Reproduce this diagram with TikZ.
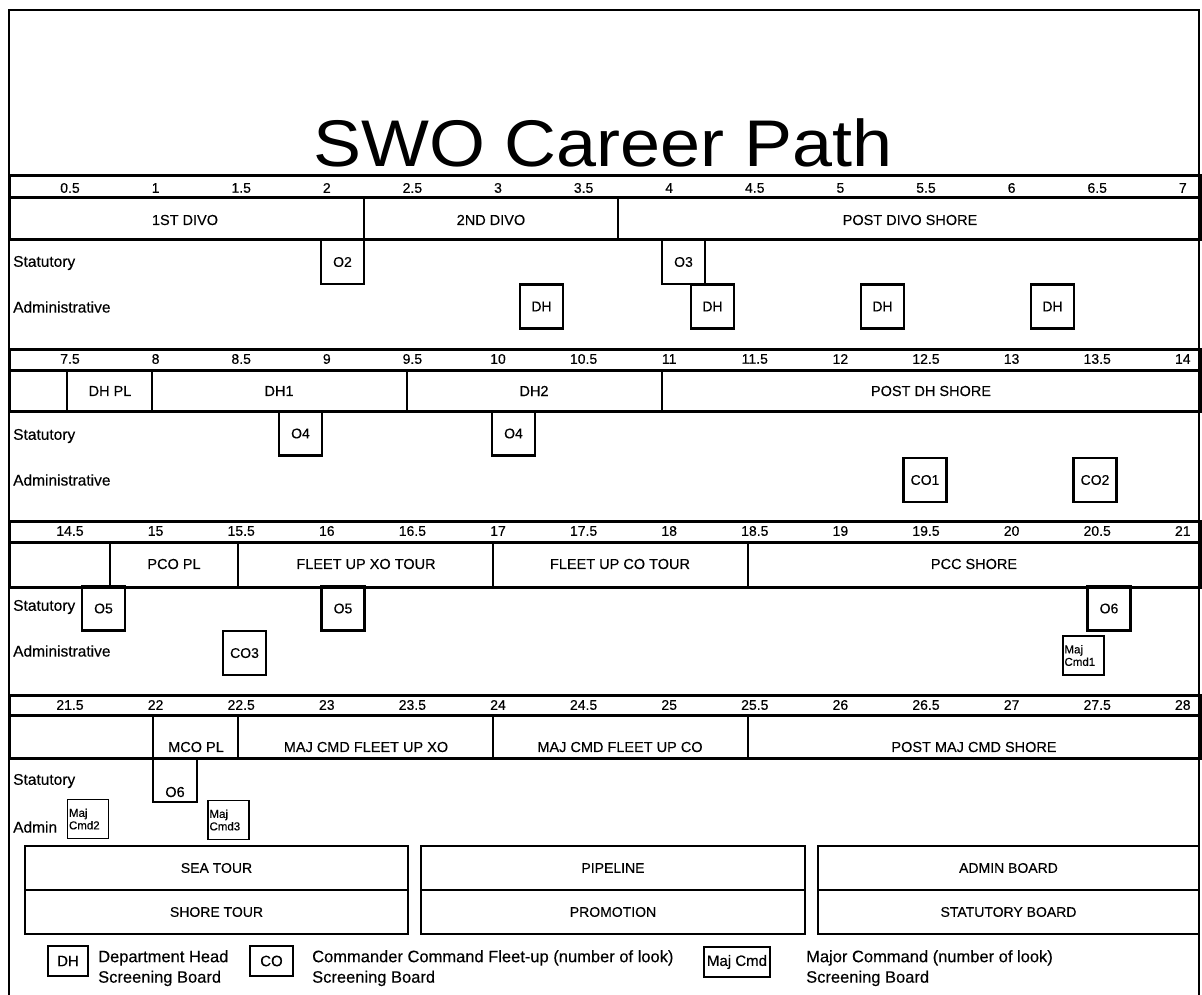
\documentclass[tikz,border=0pt]{standalone}
\usepackage{fontspec}
\setmainfont{Liberation Sans}
\newfontfamily\nar[FakeBold=0.3]{Liberation Sans}
\newfontfamily\ttl[FakeStretch=1.09]{Liberation Sans}
\newcommand{\fsz}[1]{\fontsize{#1}{#1}\selectfont}
\begin{document}
\begin{tikzpicture}[x=1pt,y=-1pt,
  sect/.style={line width=3pt},
  divl/.style={line width=2.5pt},
  ct/.style={font=\nar\fsz{14.5}, inner sep=0pt},
  num/.style={font=\nar\fsz{14}, inner sep=0pt},
  lab/.style={anchor=west, font=\nar\fsz{15.5}, inner sep=0pt},
  sb/.style={draw, line width=2.5pt, inner sep=0pt, font=\nar\fsz{14}, minimum width=43pt, minimum height=44pt},
  mc/.style={draw, line width=1.6pt, inner sep=0pt, font=\nar\fsz{11.5}, align=left, text width=38pt, minimum width=41pt, minimum height=39pt},
  leg/.style={draw, line width=2pt, inner sep=0pt, font=\nar\fsz{14}, minimum height=44pt},
  lk/.style={draw, line width=1.2pt, inner sep=0pt, font=\nar\fsz{15}, minimum height=30pt},
  lt/.style={anchor=north west, font=\nar\fsz{16.5}, align=left, inner sep=0pt}
]
\useasboundingbox (0,0) rectangle (1202,995);
% outer frame
\draw[line width=2pt] (9,995) -- (9,10) -- (1199,10) -- (1199,995);
% title
\node[font=\ttl\fsz{66}, anchor=base, inner sep=0pt, text depth=0pt] (title) at (603,167) {SWO Career Path};

% ===== Section 1 =====
\draw[sect] (9,176) rectangle (1200,198);
\draw[sect] (9,198) rectangle (1200,240);
\draw[divl] (364,198) -- (364,240);
\draw[divl] (618,198) -- (618,240);
\foreach \v [count=\i] in {0.5,1,1.5,2,2.5,3,3.5,4,4.5,5,5.5,6,6.5,7}
  \node[num] (na\i) at ({70+85.6*(\i-1)},188) {\v};
\node[ct] (c11) at (185,220) {1ST DIVO};
\node[ct] (c12) at (491,220) {2ND DIVO};
\node[ct] (c13) at (910,220) {POST DIVO SHORE};
\node[lab] (st1) at (13,263) {Statutory};
\node[lab] (ad1) at (13,307) {Administrative};
\node[sb] (o2) at (342.5,262) {O2};
\node[sb] (o3) at (683.5,262) {O3};
\node[sb] (dh1) at (541.5,306.5) {DH};
\node[sb] (dh2) at (712.5,306.5) {DH};
\node[sb] (dh3) at (882.5,306.5) {DH};
\node[sb] (dh4) at (1052.5,306.5) {DH};

% ===== Section 2 =====
\draw[sect] (9,349) rectangle (1200,370);
\draw[sect] (9,370) rectangle (1200,411);
\foreach \xx in {67,152,407,662} \draw[divl] (\xx,370) -- (\xx,411);
\foreach \v [count=\i] in {7.5,8,8.5,9,9.5,10,10.5,11,11.5,12,12.5,13,13.5,14}
  \node[num] (nb\i) at ({70+85.6*(\i-1)},359) {\v};
\node[ct] (c21) at (110,391) {DH PL};
\node[ct] (c22) at (279,391) {DH1};
\node[ct] (c23) at (534,391) {DH2};
\node[ct] (c24) at (931,391) {POST DH SHORE};
\node[lab] (st2) at (13,436) {Statutory};
\node[lab] (ad2) at (13,480) {Administrative};
\node[sb] (o4a) at (300.5,433.5) {O4};
\node[sb] (o4b) at (513.5,433.5) {O4};
\node[sb] (co1) at (925,480) {CO1};
\node[sb] (co2) at (1095,480) {CO2};

% ===== Section 3 =====
\draw[sect] (9,521) rectangle (1200,542);
\draw[sect] (9,542) rectangle (1200,587);
\foreach \xx in {110,238,493,748} \draw[divl] (\xx,542) -- (\xx,587);
\foreach \v [count=\i] in {14.5,15,15.5,16,16.5,17,17.5,18,18.5,19,19.5,20,20.5,21}
  \node[num] (nc\i) at ({70+85.6*(\i-1)},531) {\v};
\node[ct] (c31) at (174,564) {PCO PL};
\node[ct] (c32) at (366,564) {FLEET UP XO TOUR};
\node[ct] (c33) at (620,564) {FLEET UP CO TOUR};
\node[ct] (c34) at (974,564) {PCC SHORE};
\node[lab] (st3) at (13,607) {Statutory};
\node[lab] (ad3) at (13,651) {Administrative};
\node[sb] (o5a) at (103.5,608.5) {O5};
\node[sb] (o5b) at (343,608.5) {O5};
\node[sb] (o6a) at (1109,608.5) {O6};
\node[sb, text depth=-8pt] (co3) at (244.5,653) {CO3};
\node[mc] (mj1) at (1083.5,655.5) {Maj\\[1pt]Cmd1};

% ===== Section 4 =====
\draw[sect] (9,695) rectangle (1200,715);
\draw[sect] (9,715) rectangle (1200,758);
\foreach \xx in {153,238,493,748} \draw[divl] (\xx,715) -- (\xx,758);
\foreach \v [count=\i] in {21.5,22,22.5,23,23.5,24,24.5,25,25.5,26,26.5,27,27.5,28}
  \node[num] (nd\i) at ({70+85.6*(\i-1)},705) {\v};
\node[ct] (c41) at (196,747) {MCO PL};
\node[ct] (c42) at (366,747) {MAJ CMD FLEET UP XO};
\node[ct] (c43) at (620,747) {MAJ CMD FLEET UP CO};
\node[ct] (c44) at (974,747) {POST MAJ CMD SHORE};
\node[lab] (st4) at (13,781) {Statutory};
\node[lab] (ad4) at (13,827) {Admin};
\draw[line width=2.5pt] (153,758) rectangle (197,802);
\node[ct] (o6b) at (175,792) {O6};
\node[mc] (mj2) at (88,819) {Maj\\[1pt]Cmd2};
\node[mc] (mj3) at (228.5,820) {Maj\\[1pt]Cmd3};

% ===== Legend boxes =====
\node[leg, minimum width=383pt] (sea) at (216.5,868) {SEA TOUR};
\node[leg, minimum width=383pt] (shore) at (216.5,912) {SHORE TOUR};
\node[leg, minimum width=384pt] (pipe) at (613,868) {PIPELINE};
\node[leg, minimum width=384pt] (promo) at (613,912) {PROMOTION};
\node[leg, minimum width=381pt] (admb) at (1008.5,868) {ADMIN BOARD};
\node[leg, minimum width=381pt] (statb) at (1008.5,912) {STATUTORY BOARD};

% ===== Key =====
\node[lk, minimum width=40pt] (kdh) at (68,961) {DH};
\node[lt] (tdh) at (98,950) {Department Head\\[4pt]Screening Board};
\node[lk, minimum width=43pt] (kco) at (271.5,961) {CO};
\node[lt] (tco) at (312,950) {Commander Command Fleet-up (number of look)\\[4pt]Screening Board};
\node[lk, minimum width=66pt] (kmc) at (737,962) {Maj Cmd};
\node[lt] (tmc) at (806,950) {Major Command (number of look)\\[4pt]Screening Board};
\end{tikzpicture}
\end{document}
